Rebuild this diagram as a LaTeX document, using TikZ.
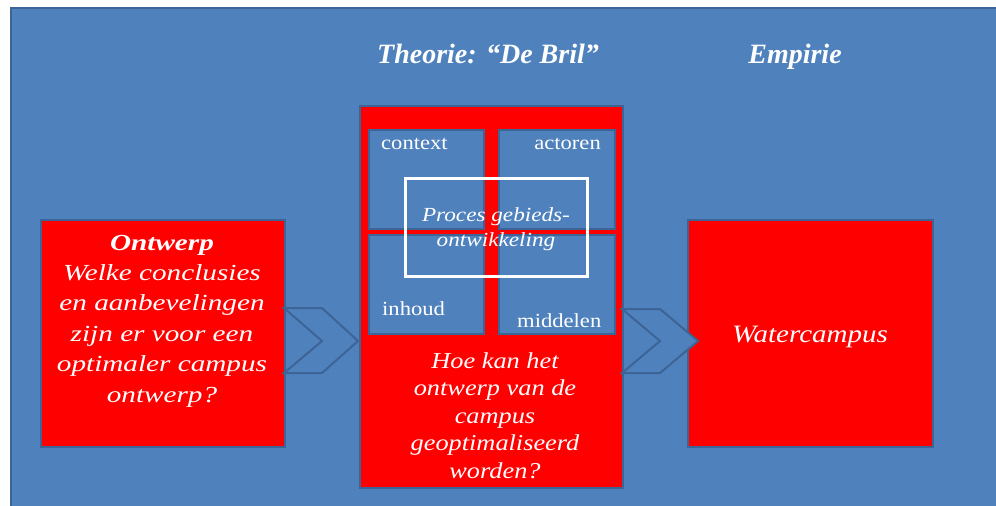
\documentclass[tikz,border=0pt]{standalone}
\usepackage{fontspec}
\setmainfont{Liberation Serif}
\newfontfamily\wideA[FakeStretch=1.27]{Liberation Serif}
\newfontfamily\wideB[FakeStretch=1.16]{Liberation Serif}
\newfontfamily\wideC[FakeStretch=1.13]{Liberation Serif}
\definecolor{bg}{HTML}{4F81BD}
\definecolor{edge}{HTML}{3C6496}
\begin{document}
\begin{tikzpicture}[x=1pt,y=-1pt,
  redbox/.style={fill=red, draw=edge, line width=2pt, inner sep=0pt, anchor=north west},
  quad/.style={fill=bg, draw=edge, line width=2pt, inner sep=0pt, anchor=north west},
  chev/.style={fill=bg, draw=edge, line width=2pt, line join=miter},
  txt/.style={text=white, inner sep=0pt, align=center},
  head/.style={txt, anchor=base, font=\bfseries\itshape\fontsize{28}{33}\selectfont},
  lbl/.style={txt, font=\wideC\fontsize{20}{24}\selectfont}]
\useasboundingbox (0,0) rectangle (996,506);
\fill[white] (0,0) rectangle (996,506);
% panel background, edged on the top and left only; it runs past the page edges
\fill[bg] (11,8) rectangle (1006,516);
\draw[edge, line width=2pt] (11,516) -- (11,8) -- (1006,8);

% headings
\node[head] (theorie) at (488,63) {Theorie: “De Bril”};
\node[head] (empirie) at (795,63) {Empirie};

% left box (multi-line texts are placed by the baseline of their last line)
\node[redbox, minimum width=244pt, minimum height=227pt] (ontwerp) at (40,219) {};
\node[txt, anchor=base, font=\wideA\itshape\fontsize{23}{30.4}\selectfont] (ontwerptxt) at (162,402)
  {\textbf{Ontwerp}\\Welke conclusies\\en aanbevelingen\\zijn er voor een\\optimaler campus\\ontwerp?};

% central box
\node[redbox, minimum width=263pt, minimum height=382pt] (bril) at (359,105) {};
\node[quad, minimum width=115pt, minimum height=99pt] (qtl) at (368,129) {};
\node[quad, minimum width=116pt, minimum height=99pt] (qtr) at (498,129) {};
\node[quad, minimum width=115pt, minimum height=99pt] (qbl) at (368,234) {};
\node[quad, minimum width=116pt, minimum height=99pt] (qbr) at (498,234) {};
\node[lbl, anchor=base west] (context) at (381,149) {context};
\node[lbl, anchor=base east] (actoren) at (601,149) {actoren};
\node[lbl, anchor=base west] (inhoud) at (382,315) {inhoud};
\node[lbl, anchor=base west] (middelen) at (517,327) {middelen};
\draw[white, line width=3pt] (405,178) rectangle (587,276);
\node[txt, anchor=base, font=\wideB\itshape\fontsize{20}{25}\selectfont] (proces) at (496,246)
  {Proces gebieds-\\ontwikkeling};
\node[txt, anchor=base, font=\wideB\itshape\fontsize{22.7}{27.5}\selectfont] (vraag) at (495,478)
  {Hoe kan het\\ontwerp van de\\campus\\geoptimaliseerd\\worden?};

% right box
\node[redbox, minimum width=245pt, minimum height=227pt] (water) at (687,219) {};
\node[txt, anchor=base, font=\wideB\itshape\fontsize{25}{30}\selectfont] (watertxt) at (810,342) {Watercampus};

% chevrons between the boxes
\draw[chev] (284,308) -- (322,308) -- (358,341) -- (322,373) -- (284,373) -- (322,341) -- cycle;
\draw[chev] (622,309) -- (660,309) -- (698,341) -- (660,373) -- (622,373) -- (660,341) -- cycle;
\end{tikzpicture}
\end{document}
